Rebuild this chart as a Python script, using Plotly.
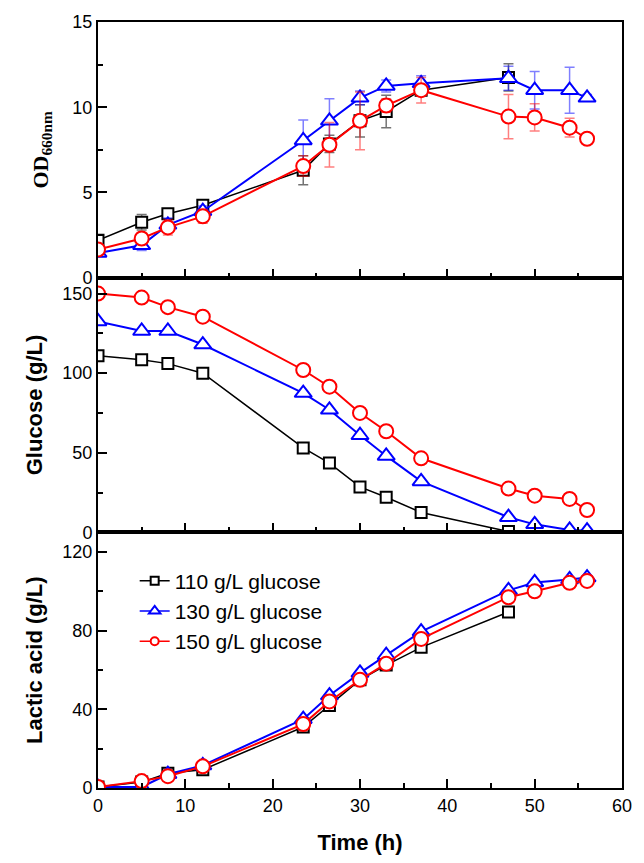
import plotly.graph_objects as go
from plotly.subplots import make_subplots

# Sampling times (h)
time_full = [0, 5, 8, 12, 23.5, 26.5, 30, 33, 37, 47, 50, 54, 56]
time_110 = [0, 5, 8, 12, 23.5, 26.5, 30, 33, 37, 47]

# Cell growth, OD660nm (mean and standard deviation)
od_110 = [2.2, 3.25, 3.75, 4.25, 6.3, 7.85, 9.2, 9.75, 11.0, 11.75]
od_110_sd = [0.3, 0.45, 0.2, 0.2, 0.85, 0.5, 0.95, 0.95, 0.3, 0.8]
od_130 = [1.45, 1.9, 3.1, 3.9, 8.05, 9.2, 10.55, 11.25, 11.4, 11.7, 11.0, 11.0, 10.55]
od_130_sd = [0.2, 0.3, 0.4, 0.3, 1.2, 1.3, 0.4, 0.35, 0.45, 0.7, 1.1, 1.35, 0.2]
od_150 = [1.65, 2.3, 2.95, 3.6, 6.55, 7.8, 9.2, 10.1, 11.0, 9.45, 9.4, 8.8, 8.15]
od_150_sd = [0.3, 0.35, 0.45, 0.4, 0.6, 1.3, 1.7, 0.4, 0.75, 1.3, 0.8, 0.55, 0.3]

# Residual glucose (g/L)
glc_110 = [111.0, 108.5, 106.0, 100.0, 53.0, 43.5, 28.5, 22.0, 12.5, 0.5]
glc_130 = [132.5, 126.5, 126.5, 118.0, 87.5, 77.0, 61.0, 48.0, 32.0, 9.5, 5.0, 1.5, 1.0]
glc_150 = [150.0, 147.5, 141.5, 135.5, 102.0, 91.5, 75.0, 63.5, 46.5, 27.5, 23.0, 21.0, 14.0]

# Lactic acid produced (g/L)
la_110 = [0.5, 3.0, 7.5, 9.3, 31.0, 42.0, 55.0, 62.5, 71.5, 89.5]
la_130 = [0.5, 0.5, 7.0, 11.5, 35.0, 47.0, 58.5, 67.5, 79.5, 100.5, 104.5, 106.0, 107.0]
la_150 = [0.5, 3.5, 6.0, 11.0, 32.5, 44.0, 55.0, 63.2, 75.8, 97.0, 100.0, 104.3, 105.3]

series_names = ["110 g/L glucose", "130 g/L glucose", "150 g/L glucose"]

styles = [
    dict(color="black", err="rgba(0,0,0,0.55)", symbol="square", size=11, lw=1.5),
    dict(color="#0000ff", err="rgba(0,0,255,0.5)", symbol="triangle-up", size=15, lw=2),
    dict(color="#ff0000", err="rgba(255,0,0,0.5)", symbol="circle", size=14, lw=2),
]

fig = make_subplots(rows=3, cols=1, shared_xaxes=True, vertical_spacing=0)


def add_series(row, x, y, st, sd=None):
    tr = go.Scatter(
        x=x, y=y, mode="lines+markers", showlegend=False,
        line=dict(color=st["color"], width=st["lw"]),
        marker=dict(symbol=st["symbol"], size=st["size"], color="white",
                    line=dict(color=st["color"], width=2)),
    )
    if sd is not None:
        tr.error_y = dict(type="data", array=sd, visible=True,
                          color=st["err"], thickness=1.5, width=5)
    fig.add_trace(tr, row=row, col=1)


od_sets = [(time_110, od_110, od_110_sd), (time_full, od_130, od_130_sd),
           (time_full, od_150, od_150_sd)]
glc_sets = [(time_110, glc_110), (time_full, glc_130), (time_full, glc_150)]
la_sets = [(time_110, la_110), (time_full, la_130), (time_full, la_150)]

for st, (x, y, sd) in zip(styles, od_sets):
    add_series(1, x, y, st, sd)
for st, (x, y) in zip(styles, glc_sets):
    add_series(2, x, y, st)
for st, (x, y) in zip(styles, la_sets):
    add_series(3, x, y, st)

# Legend entries (smaller symbols than the plotted markers)
for st, name in zip(styles, series_names):
    fig.add_trace(go.Scatter(
        x=[None], y=[None], mode="lines+markers", name=name,
        line=dict(color=st["color"], width=1.5),
        marker=dict(symbol=st["symbol"], size=8 if st["symbol"] != "triangle-up" else 10,
                    color="white", line=dict(color=st["color"], width=2)),
    ), row=3, col=1)

tick_font = dict(family="Liberation Sans, Arial", size=18, color="black")
title_font = dict(family="Liberation Sans, Arial", size=22, color="black")

axis_common = dict(
    showline=True, linecolor="black", linewidth=2, mirror=True,
    ticks="inside", ticklen=9, tickwidth=2, tickcolor="black",
    showgrid=False, zeroline=False, tickfont=tick_font,
)

for r in (1, 2, 3):
    fig.update_xaxes(
        range=[0, 60], dtick=10, tick0=0,
        minor=dict(ticks="inside", ticklen=5, tickwidth=2, tickcolor="black", dtick=5),
        row=r, col=1, **axis_common,
    )

fig.update_xaxes(title=dict(text="<b>Time (h)</b>", font=title_font, standoff=20),
                 row=3, col=1)

fig.update_yaxes(
    range=[0, 15], dtick=5, tick0=0,
    minor=dict(ticks="inside", ticklen=5, tickwidth=2, tickcolor="black", dtick=2.5),
    title=dict(text="<b>OD<sub>660nm</sub></b>",
               font=dict(family="Liberation Serif, Times New Roman", size=22, color="black"),
               standoff=18),
    domain=[0.6662, 1.0], row=1, col=1, **axis_common,
)
fig.update_yaxes(
    range=[0, 160], dtick=50, tick0=0,
    minor=dict(ticks="inside", ticklen=5, tickwidth=2, tickcolor="black", dtick=25),
    title=dict(text="<b>Glucose (g/L)</b>", font=title_font, standoff=14),
    domain=[0.3338, 0.6662], row=2, col=1, **axis_common,
)
fig.update_yaxes(
    range=[0, 130], dtick=40, tick0=0,
    minor=dict(ticks="inside", ticklen=5, tickwidth=2, tickcolor="black", dtick=20),
    title=dict(text="<b>Lactic acid (g/L)</b>", font=title_font, standoff=14),
    domain=[0.0, 0.3338], row=3, col=1, **axis_common,
)

fig.update_layout(
    width=644, height=863,
    margin=dict(l=98, r=22, t=18, b=75),
    paper_bgcolor="white", plot_bgcolor="white",
    legend=dict(x=0.07, y=0.297, xref="paper", yref="paper",
                xanchor="left", yanchor="top",
                font=dict(family="Liberation Sans, Arial", size=21, color="black"),
                bgcolor="rgba(0,0,0,0)", tracegroupgap=0),
)

fig.write_html("out.html")
